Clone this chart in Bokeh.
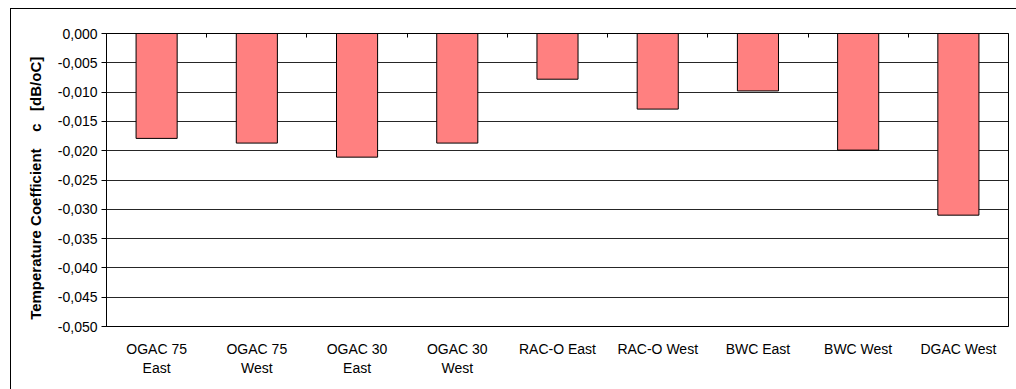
from bokeh.plotting import figure
from bokeh.models import (Range1d, LinearAxis, FixedTicker, ColumnDataSource)
from bokeh.embed import file_html
from bokeh.resources import INLINE

categories = ["OGAC 75\nEast", "OGAC 75\nWest", "OGAC 30\nEast", "OGAC 30\nWest",
              "RAC-O East", "RAC-O West", "BWC East", "BWC West", "DGAC West"]
values = [-0.0179, -0.0187, -0.0211, -0.0187, -0.0078, -0.0129, -0.0098, -0.0199, -0.0310]
y_ticks = [0.0, -0.005, -0.010, -0.015, -0.020, -0.025, -0.030, -0.035, -0.040, -0.045, -0.050]
y_tick_labels = ["0,000", "-0,005", "-0,010", "-0,015", "-0,020", "-0,025",
                 "-0,030", "-0,035", "-0,040", "-0,045", "-0,050"]
y_label = ("Temperature Coefficient \u00a0\u00a0\u00a0c\u00a0\u00a0 [dB/oC]"
           "\u00a0\u00a0\u00a0\u00a0")

FONT = "Liberation Sans"

n = len(categories)
pos = list(range(1, n + 1))
src = ColumnDataSource(dict(x=pos, val=values))

p = figure(width=1006, height=381, x_range=Range1d(0.5, n + 0.5),
           y_range=Range1d(-0.05, 0.0), output_backend="svg", toolbar_location=None,
           min_border_left=95, min_border_top=24, min_border_right=9, min_border_bottom=64)
p.margin = (8, 0, 0, 10)
p.styles = {"border-top": "1px solid black", "border-left": "1px solid black"}
p.background_fill_color = "white"
p.border_fill_color = "white"
p.outline_line_color = "black"
p.outline_line_width = 1

p.vbar(x="x", top=0, bottom="val", width=0.41, source=src,
       fill_color="#FF8080", line_color="black", line_width=1)

# y axis
ya = p.yaxis[0]
ya.ticker = FixedTicker(ticks=y_ticks)
ya.major_label_overrides = {t: l for t, l in zip(y_ticks, y_tick_labels)}
ya.major_label_text_font = FONT
ya.major_label_text_font_size = "14px"
ya.major_label_text_color = "black"
ya.major_tick_in = 0
ya.major_tick_out = 5
ya.minor_tick_line_color = None
ya.major_label_standoff = 4
ya.axis_line_color = "black"
ya.axis_label = y_label
ya.axis_label_text_font = FONT
ya.axis_label_text_font_style = "bold"
ya.axis_label_text_font_size = "15px"
ya.axis_label_text_color = "black"
ya.axis_label_standoff = 11

# x axis (bottom)
xa = p.xaxis[0]
xa.ticker = FixedTicker(ticks=pos)
xa.major_label_overrides = {i: c for i, c in zip(pos, categories)}
xa.major_tick_line_color = None
xa.minor_tick_line_color = None
xa.axis_line_color = "black"
xa.major_label_text_font = FONT
xa.major_label_text_font_size = "14px"
xa.major_label_text_color = "black"
xa.major_label_standoff = 8

# top axis with category separators (tick marks only)
sep_ticks = [i + 0.5 for i in pos[:-1]]
ta = LinearAxis(ticker=FixedTicker(ticks=sep_ticks))
ta.major_label_overrides = {t: "" for t in sep_ticks}
ta.major_tick_in = 4
ta.major_tick_out = 0
ta.major_tick_line_color = "black"
ta.minor_tick_line_color = None
ta.axis_line_color = "black"
p.add_layout(ta, "above")

p.xgrid.grid_line_color = None
p.ygrid.ticker = FixedTicker(ticks=y_ticks)
p.ygrid.grid_line_color = "black"
p.ygrid.grid_line_alpha = 0.85

open("out.html", "w").write(file_html(p, INLINE))
